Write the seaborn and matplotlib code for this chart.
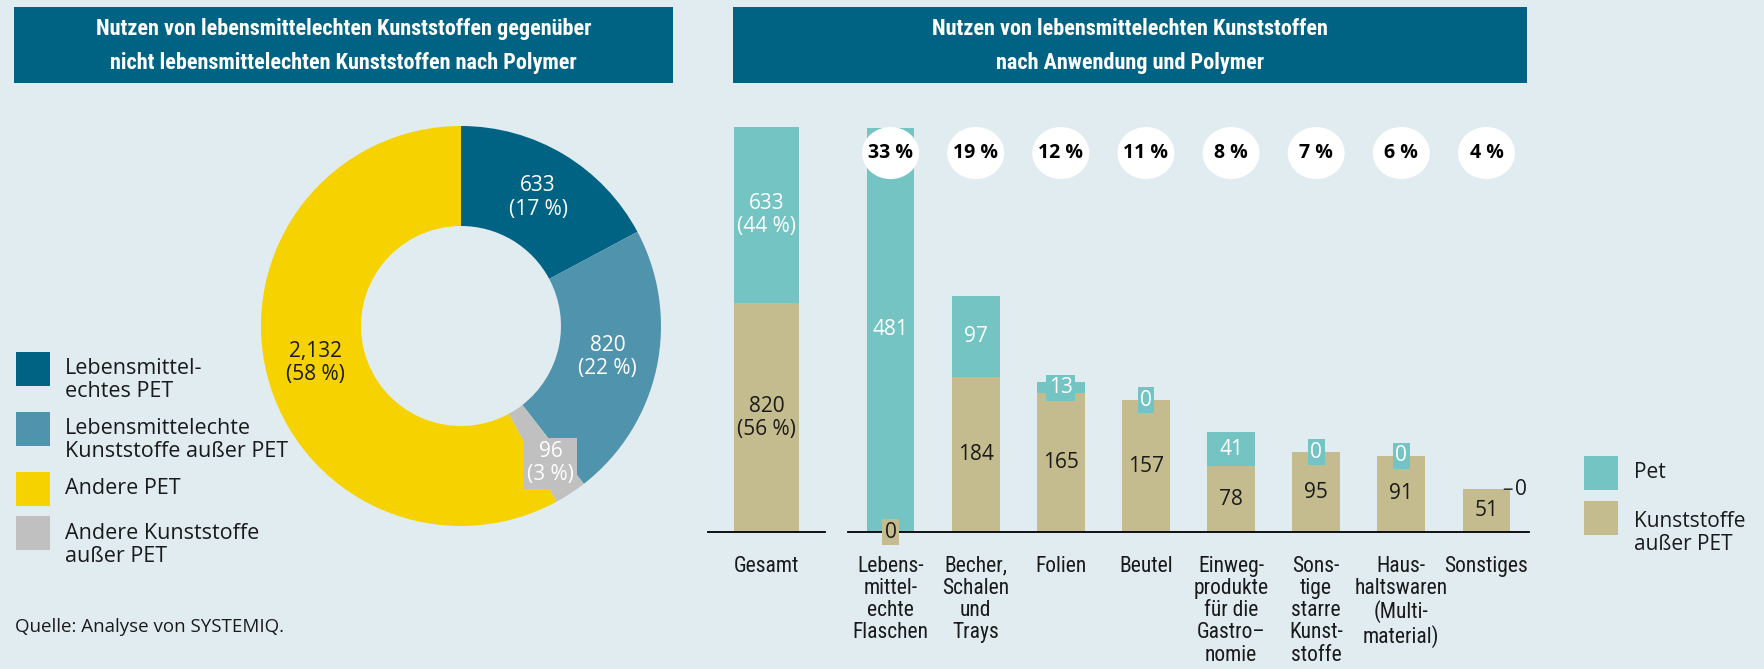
import matplotlib
matplotlib.use('Agg')
import matplotlib.pyplot as plt
from matplotlib import font_manager as fm
from matplotlib.patches import Rectangle, Ellipse
import numpy as np
import pandas as pd
import seaborn as sns

# ---------------- data ----------------
left_title = 'Nutzen von lebensmittelechten Kunststoffen gegenüber\nnicht lebensmittelechten Kunststoffen nach Polymer'
right_title = 'Nutzen von lebensmittelechten Kunststoffen\nnach Anwendung und Polymer'

pie_names = ['Lebensmittel-\nechtes PET', 'Lebensmittelechte\nKunststoffe außer PET',
             'Andere PET', 'Andere Kunststoffe\naußer PET']
pie_values = [633, 820, 2132, 96]
pie_order = [0, 1, 3, 2]          # clockwise drawing order from 12 o'clock

total_names = ['Gesamt']
total_pet = [633]
total_other = [820]

app_names = ['Flaschen', 'Becher', 'Folien', 'Beutel', 'Einweg', 'Starre', 'Haushalt', 'Sonstiges']
app_ticklabels = ['Lebens-\nmittel-\nechte\nFlaschen', 'Becher,\nSchalen\nund\nTrays', 'Folien', 'Beutel',
                  'Einweg-\nprodukte\nfür die\nGastro–\nnomie', 'Sons-\ntige\nstarre\nKunst-\nstoffe',
                  'Haus-\nhaltswaren\n(Multi-\nmaterial)', 'Sonstiges']
app_pet = [481, 97, 13, 0, 41, 0, 0, 0]
app_other = [0, 184, 165, 157, 78, 95, 91, 51]
app_share = [33, 19, 12, 11, 8, 7, 6, 4]

bar_legend = ['Pet', 'Kunststoffe\naußer PET']
source = 'Quelle: Analyse von SYSTEMIQ.'

# ---------------- style ----------------
BG = '#e1ecf1'
TITLE_BLUE = '#006384'
PIE_COLORS = ['#006384', '#4f93ad', '#f5d200', '#c0c0c0']
TEAL = '#74c4c3'
TAN = '#c4bc8e'
DARK = '#1a1a1a'

sns.set_style('white')
plt.rcParams['font.family'] = ['Open Sans', 'DejaVu Sans']

W, H = 1764, 669
fig = plt.figure(figsize=(W / 100, H / 100), dpi=100)
fig.patch.set_facecolor(BG)
renderer = fig.canvas.get_renderer()


def fx(px):
    return px / W


def fy(py):
    return 1 - py / H


def condensed_font(bold):
    # look for an installed condensed / narrow face, fall back to Open Sans
    cands = []
    for f in fm.fontManager.ttflist:
        tag = (f.name + ' ' + f.fname).lower()
        if not ('cond' in tag or 'narrow' in tag):
            continue
        if any(k in tag for k in ('mono', 'serif', 'italic', 'oblique', 'extra', 'ultra')):
            continue
        w = f.weight if isinstance(f.weight, int) else fm.weight_dict.get(f.weight, 400)
        if w != (700 if bold else 400):
            continue
        rank = next((i for i, k in enumerate(['roboto', 'open', 'noto', 'liberation', 'dejavu']) if k in tag), 9)
        cands.append((rank + (0.5 if 'semi' in tag else 0), f.fname))
    if cands:
        return fm.FontProperties(fname=sorted(cands)[0][1])
    return fm.FontProperties(family='Open Sans', weight='bold' if bold else 'normal')


def fitted(prop, text, size, target_px):
    p = prop.copy()
    p.set_size(size)
    t = fig.text(0, 0, text, fontproperties=p)
    w = t.get_window_extent(renderer).width
    t.remove()
    p.set_size(min(size * 1.15, size * target_px / w))
    return p


title_prop = fitted(condensed_font(True), 'Nutzen von lebensmittelechten Kunststoffen gegenüber', 17.5, 495)
tick_prop = fitted(condensed_font(False), 'haltswaren', 13.5, 95)

# ---------------- title boxes ----------------
for x0, x1, text in [(13.5, 673, left_title), (733, 1527, right_title)]:
    fig.add_artist(Rectangle((fx(x0), fy(83)), fx(x1 - x0), 76 / H, transform=fig.transFigure,
                             facecolor=TITLE_BLUE, lw=0))
    fig.text(fx((x0 + x1) / 2), fy(46), text, ha='center', va='center', color='white',
             fontproperties=title_prop, linespacing=1.65)

# ---------------- donut ----------------
ax_pie = fig.add_axes([fx(261), fy(526), 400 / W, 400 / H])
ax_pie.set_facecolor('none')
total = sum(pie_values)
wedges, _ = ax_pie.pie([pie_values[i] for i in pie_order], colors=[PIE_COLORS[i] for i in pie_order],
                       startangle=90, counterclock=False, radius=1,
                       wedgeprops=dict(width=0.5, linewidth=0))
ax_pie.set_xlim(-1, 1)
ax_pie.set_ylim(-1, 1)
for w, i in zip(wedges, pie_order):
    v = pie_values[i]
    mid = np.deg2rad((w.theta1 + w.theta2) / 2)
    r = 0.82 if i == 3 else 0.75
    txt = f'{v:,}\n({round(100 * v / total)} %)'
    kw = dict(ha='center', va='center', fontsize=15, linespacing=1.15,
              color=DARK if i == 2 else 'white')
    if i == 3:
        kw['bbox'] = dict(boxstyle='square,pad=0.15', fc=PIE_COLORS[3], ec='none')
    ax_pie.text(r * np.cos(mid), r * np.sin(mid), txt, **kw)

# left legend
leg_rows = [(352, 380), (412, 440), (472, 488), (516, 545)]
for (sq_top, txt_y), name, col in zip(leg_rows, pie_names, PIE_COLORS):
    fig.add_artist(Rectangle((fx(16), fy(sq_top + 34)), 34 / W, 34 / H, transform=fig.transFigure,
                             facecolor=col, lw=0))
    fig.text(fx(65), fy(txt_y), name, ha='left', va='center', fontsize=15.5, color=DARK, linespacing=1.15)

fig.text(fx(15), fy(627), source, ha='left', va='center', fontsize=13.5, color=DARK)

# ---------------- bars ----------------
ax_tot = fig.add_axes([fx(708), fy(532), (825 - 708) / W, 405 / H])
ax_app = fig.add_axes([fx(848), fy(532), (1529 - 848) / W, 405 / H])

df_tot = pd.DataFrame({'cat': total_names, 'pet': total_pet, 'other': total_other})
df_app = pd.DataFrame({'cat': app_names, 'pet': app_pet, 'other': app_other})
for df, ax in [(df_tot, ax_tot), (df_app, ax_app)]:
    df['sum'] = df['pet'] + df['other']
    sns.barplot(data=df, x='cat', y='sum', color=TEAL, saturation=1, width=0.56,
                errorbar=None, linewidth=0, ax=ax)
    sns.barplot(data=df, x='cat', y='other', color=TAN, saturation=1, width=0.56,
                errorbar=None, linewidth=0, ax=ax)
    ax.set_facecolor('none')
    ax.set_xlabel('')
    ax.set_ylabel('')
    ax.set_yticks([])
    sns.despine(ax=ax, left=True)
    ax.spines['bottom'].set_color('black')
    ax.spines['bottom'].set_linewidth(1.3)
    ax.tick_params(axis='x', length=0, pad=17)
    ax.set_xlim(-0.5, len(df) - 0.5)

ax_tot.set_ylim(0, sum(total_pet) + sum(total_other))
ax_app.set_ylim(0, 482)
ax_tot.set_xticks(range(len(total_names)), total_names)
ax_app.set_xticks(range(len(app_names)), app_ticklabels)
for ax in (ax_tot, ax_app):
    for lbl in ax.get_xticklabels():
        lbl.set_fontproperties(tick_prop)
        lbl.set_linespacing(1.08)
        lbl.set_color(DARK)
        lbl.set_verticalalignment('top')

# Gesamt labels
tp, to = total_pet[0], total_other[0]
ax_tot.text(0, to + tp / 2, f'{tp}\n({round(100 * tp / (tp + to))} %)', ha='center', va='center',
            color='white', fontsize=15, linespacing=1.15)
ax_tot.text(0, to / 2, f'{to}\n({round(100 * to / (tp + to))} %)', ha='center', va='center',
            color=DARK, fontsize=15, linespacing=1.15)

# application labels
last = len(app_names) - 1
for i, (p, o, s) in enumerate(zip(app_pet, app_other, app_share)):
    # share bubble
    ax_app.add_patch(Ellipse((i, 451), 0.67, 62, facecolor='white', lw=0, clip_on=False, zorder=5))
    ax_app.text(i, 451, f'{s} %', ha='center', va='center', fontsize=14, fontweight='bold',
                color='black', zorder=6)
    # pet segment
    if i == last:
        ax_app.annotate(str(p), xy=(i + 0.21, o + p), xytext=(8, 0), textcoords='offset points',
                        ha='left', va='center', fontsize=15, color=DARK,
                        arrowprops=dict(arrowstyle='-', color=DARK, lw=1, shrinkA=0, shrinkB=0))
    elif p < 30:
        ax_app.text(i, o + p / 2, str(p), ha='center', va='center', fontsize=15, color='white', zorder=4,
                    bbox=dict(boxstyle='square,pad=0.12', fc=TEAL, ec='none'))
    else:
        ax_app.text(i, o + p / 2, str(p), ha='center', va='center', fontsize=15, color='white')
    # other segment
    if o == 0:
        ax_app.text(i, 0, str(o), ha='center', va='center', fontsize=15, color=DARK, zorder=4,
                    clip_on=False, bbox=dict(boxstyle='square,pad=0.12', fc=TAN, ec='none'))
    else:
        ax_app.text(i, o / 2, str(o), ha='center', va='center', fontsize=15, color=DARK)

# right legend
for (sq_top, txt_y), name, col in zip([(456, 473), (501, 533)], bar_legend, [TEAL, TAN]):
    fig.add_artist(Rectangle((fx(1584), fy(sq_top + 34)), 34 / W, 34 / H, transform=fig.transFigure,
                             facecolor=col, lw=0))
    fig.text(fx(1634), fy(txt_y), name, ha='left', va='center', fontsize=15, color=DARK, linespacing=1.15)

fig.savefig('out.png', dpi=100, facecolor=BG)
